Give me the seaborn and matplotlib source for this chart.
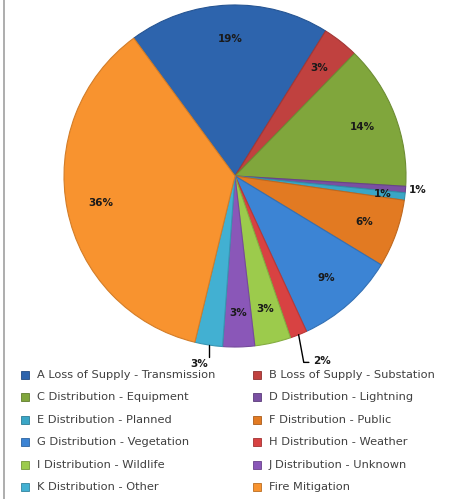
import matplotlib
matplotlib.use("Agg")
import matplotlib.pyplot as plt
import numpy as np
import seaborn as sns
from matplotlib.patches import FancyBboxPatch, Rectangle
from matplotlib.colors import to_rgb

# data (share of outages by cause, %)
categories = ["A Loss of Supply - Transmission", "B Loss of Supply - Substation",
              "C Distribution - Equipment", "D Distribution - Lightning",
              "E Distribution - Planned", "F Distribution - Public",
              "G Distribution - Vegetation", "H Distribution - Weather",
              "I Distribution - Wildlife", "J Distribution - Unknown",
              "K Distribution - Other", "Fire Mitigation"]
shares = [18.9, 3.4, 13.6, 0.6, 0.7, 6.4, 9.4, 1.6, 3.4, 3.0, 2.6, 36.0]
pct_labels = ["19%", "3%", "14%", "1%", "1%", "6%", "9%", "2%", "3%", "3%", "3%", "36%"]
colors = ["#2d64ad", "#c0413f", "#80a63c", "#7a50a2", "#3aa6c6", "#e27a22",
          "#3c84d4", "#d84242", "#9ccb4c", "#8a57b8", "#42b0d2", "#f8932f"]

sns.set_theme(style="white")
plt.rcParams["font.family"] = ["DejaVu Sans"]

W, H = 451, 499
fig = plt.figure(figsize=(W / 100, H / 100), dpi=100, facecolor="white")

# outer chart frame (rounded, cropped by the picture edges)
frame = FancyBboxPatch((4 / W, -30 / H), 500 / W, 560 / H,
                       boxstyle="round,pad=0,rounding_size=0.045",
                       transform=fig.transFigure, facecolor="none",
                       edgecolor="#a0a0a0", linewidth=1.2, zorder=0)
fig.patches.append(frame)

cx, cy, r = 235, 176, 171
ax = fig.add_axes([(cx - r) / W, 1 - (cy + r) / H, 2 * r / W, 2 * r / H])


def darker(c, f=0.78):
    return tuple(v * f for v in to_rgb(c))


wedges, _ = ax.pie(shares, colors=colors, startangle=126.3, counterclock=False,
                   wedgeprops=dict(linewidth=0.8))
for w, c in zip(wedges, colors):
    w.set_edgecolor(darker(c, 0.85))
ax.set_xlim(-1, 1)
ax.set_ylim(-1, 1)
ax.axis("off")

# percentage labels
label_style = dict(ha="center", va="center", fontsize=7.5, fontweight="bold", color="#1a1a1a")
for i, (w, lab) in enumerate(zip(wedges, pct_labels)):
    mid = np.deg2rad((w.theta1 + w.theta2) / 2)
    ux, uy = np.cos(mid), np.sin(mid)
    if categories[i].startswith("D "):
        ax.text(1.07 * ux, 1.07 * uy, lab, **label_style, clip_on=False)
    elif categories[i].startswith("E "):
        ax.text(0.87 * ux, 0.87 * uy, lab, **label_style)
    elif categories[i].startswith("H "):
        ax.plot([ux, ux + 0.03, ux + 0.06], [uy, -1.09, -1.09], color="black", lw=1.0, clip_on=False)
        ax.text(0.51, -1.08, lab, **label_style, clip_on=False)
    elif categories[i].startswith("K "):
        ax.plot([ux, ux], [uy, -1.06], color="black", lw=1.0, clip_on=False)
        ax.text(-0.21, -1.1, lab, **label_style, clip_on=False)
    else:
        ax.text(0.8 * ux, 0.8 * uy, lab, **label_style)

# legend, laid out row by row as in the reference
col_x = [21, 253]
row_y0, row_dy = 375, 22.4
for i, (name, c) in enumerate(zip(categories, colors)):
    row, col = divmod(i, 2)
    x = col_x[col]
    y = row_y0 + row * row_dy
    fig.patches.append(Rectangle((x / W, 1 - (y + 4) / H), 8 / W, 8 / H,
                                 transform=fig.transFigure, facecolor=c,
                                 edgecolor=darker(c, 0.75), linewidth=0.6))
    fig.text((x + 16) / W, 1 - y / H, name, ha="left", va="center",
             fontsize=8.2, color="#404040")

fig.savefig("out.png", dpi=100, facecolor="white")
